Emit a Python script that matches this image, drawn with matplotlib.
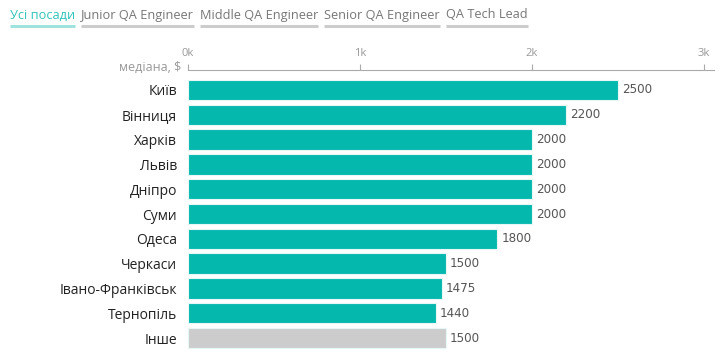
import matplotlib
matplotlib.use("Agg")
import matplotlib.pyplot as plt
from matplotlib.lines import Line2D
from matplotlib import font_manager as fm

cities = ["Київ", "Вінниця", "Харків", "Львів", "Дніпро", "Суми", "Одеса",
          "Черкаси", "Івано-Франківськ", "Тернопіль", "Інше"]
values = [2500, 2200, 2000, 2000, 2000, 2000, 1800, 1500, 1475, 1440, 1500]
tabs = ["Усі посади", "Junior QA Engineer", "Middle QA Engineer",
        "Senior QA Engineer", "QA Tech Lead"]
xticks = [0, 1000, 2000, 3000]
xtick_labels = ["0k", "1k", "2k", "3k"]

names = {f.name for f in fm.fontManager.ttflist}
narrow_family = "Liberation Sans Narrow" if "Liberation Sans Narrow" in names else "DejaVu Sans"

W, H = 720, 358
fig = plt.figure(figsize=(W / 100, H / 100), dpi=100)
ax = fig.add_axes([188 / W, 1 - 350 / H, (714 - 188) / W, 280 / H])

teal = "#05b8ae"
grey = "#cccccc"
colors = [teal] * (len(cities) - 1) + [grey]
ypos = list(range(len(cities)))
ax.barh(ypos, values, height=0.82, color=colors, edgecolor="#e6f7f6", linewidth=0.8)
ax.set_xlim(0, 3060)
ax.set_ylim(10.48, -0.806)

for y, v in zip(ypos, values):
    ax.text(v + 25, y, str(v), va="center", ha="left", fontsize=9.5,
            color="#555555", family=narrow_family, fontstretch="condensed")

ax.set_yticks(ypos)
ax.set_yticklabels(cities, fontsize=10, color="#222222", family="Open Sans")
ax.tick_params(axis="y", length=0, pad=8)

ax.xaxis.tick_top()
ax.set_xticks(xticks)
ax.set_xticklabels(xtick_labels, fontsize=8, color="#999999", family="Open Sans")
ax.tick_params(axis="x", direction="out", length=4, color="#aaaaaa", pad=4, width=0.8)
for s in ["left", "right", "bottom"]:
    ax.spines[s].set_visible(False)
ax.spines["top"].set_color("#aaaaaa")
ax.spines["top"].set_linewidth(0.8)

fig.text(181 / W, 1 - 67 / H, "медіана, $", ha="right", va="center",
         fontsize=9, color="#999999", family="Open Sans")

# tabs
fig.canvas.draw()
renderer = fig.canvas.get_renderer()
x = 10
for i, t in enumerate(tabs):
    col = "#2ec4b9" if i == 0 else "#777777"
    txt = fig.text(x / W, 1 - 15 / H, t, ha="left", va="center", fontsize=9.2,
                   color=col, family="Open Sans")
    bb = txt.get_window_extent(renderer)
    w = bb.width
    ucol = "#9ee3dd" if i == 0 else "#cccccc"
    fig.add_artist(Line2D([x / W, (x + w) / W], [1 - 26 / H, 1 - 26 / H],
                          transform=fig.transFigure, color=ucol, linewidth=2.2,
                          solid_capstyle="butt"))
    x = x + w + 6

fig.savefig("out.png", dpi=100)
